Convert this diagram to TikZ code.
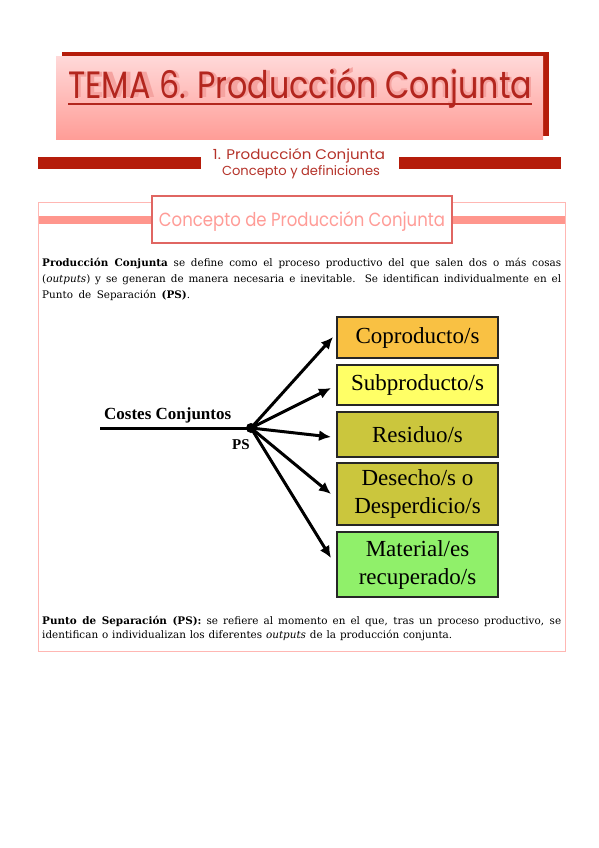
\documentclass[tikz,border=0pt]{standalone}
\usepackage{fontspec}
\setmainfont{DejaVu Serif}
\newfontfamily\timesf{Liberation Serif}
\newfontfamily\scriptf{Poppins}
\usetikzlibrary{arrows.meta}
\definecolor{darkred}{HTML}{B51C0A}
\definecolor{titletxt}{HTML}{B3261E}
\definecolor{titleshadow}{HTML}{F5A3A0}
\definecolor{pinktop}{HTML}{FFD8D8}
\definecolor{pinkbot}{HTML}{FF9D97}
\definecolor{subtxt}{HTML}{B5332A}
\definecolor{secborder}{HTML}{FFB7B3}
\definecolor{secband}{HTML}{FF968D}
\definecolor{boxborder}{HTML}{E06662}
\definecolor{boxtxt}{HTML}{FF9C97}
\definecolor{cCop}{HTML}{F9C143}
\definecolor{cSub}{HTML}{FFFF66}
\definecolor{cRes}{HTML}{CBC63D}
\definecolor{cMat}{HTML}{90F06A}
\newcommand{\titletext}{TEMA 6. Producción Conjunta}
\tikzset{
  obox/.style={draw=black!85, line width=1.6pt, minimum width=161pt, inner sep=0pt,
    align=center, font=\timesf\fontsize{23}{28}\selectfont},
  arr/.style={line width=3pt, -{Latex[length=12pt,width=11pt]}},
  para/.style={anchor=base west, inner sep=0pt, font=\fontsize{10.4}{12}\selectfont},
}
\begin{document}
\begin{tikzpicture}[x=1pt,y=-1pt]
\useasboundingbox (0,0) rectangle (599,848);
\fill[white] (0,0) rectangle (599,848);
% ---- title banner
\fill[darkred] (62,52) rectangle (549,136);
\shade[top color=pinktop, bottom color=pinkbot] (56,57) rectangle (543,139);
\node[anchor=base west, inner sep=0pt, text=titletxt] (title) at (68,99)
  {\rlap{\hspace{1.5pt}\raisebox{1.5pt}{\textcolor{titleshadow}{\resizebox{464pt}{30pt}{\scriptf\bfseries \titletext}}}}%
   \resizebox{464pt}{30pt}{\scriptf \titletext}};
\draw[titletxt, line width=1.6pt] (title.base west) ++(0,5) coordinate (ul1) -- ++(464,0) coordinate (ul2);
% ---- subtitle
\fill[darkred] (38,157) rectangle (200.5,169);
\fill[darkred] (399,157) rectangle (561,169);
\node[anchor=base, inner sep=0pt, text=subtxt] (sub1) at (299,159)
  {\resizebox{172pt}{11pt}{\scriptf 1. Producción Conjunta}};
\node[anchor=base, inner sep=0pt, text=subtxt] (sub2) at (301,175)
  {\resizebox{158pt}{10pt}{\scriptf Concepto y definiciones}};
% ---- section frame
\fill[secband] (38,215.5) rectangle (565,224);
\draw[secborder, line width=1pt] (38,202) rectangle (565,651);
\node[draw=boxborder, line width=1.3pt, fill=white, minimum width=300pt, minimum height=47pt,
  inner sep=0pt] (sbox) at (302,219.5) {};
\node[anchor=base, inner sep=0pt, text=boxtxt] (stitle) at (sbox.center) [yshift=-7pt]
  {\resizebox{286pt}{15pt}{\scriptf Concepto de Producción Conjunta}};
% ---- paragraph 1
\node[para] (p1) at (42,266) {\makebox[519pt][s]{\textbf{Producción Conjunta} se define como el proceso productivo del que salen dos o más cosas}};
\node[para] (p2) at (42,282) {\makebox[519pt][s]{(\textit{outputs}) y se generan de manera necesaria e inevitable. Se identifican individualmente en el}};
\node[para] (p3) at (42,298) {\makebox[148pt][s]{Punto de Separación \textbf{(PS)}.}};
% ---- diagram
\node[obox, fill=cCop, minimum height=41pt] (cop) at (417.5,337.5) {Coproducto/s};
\node[obox, fill=cSub, minimum height=40pt] (sub) at (417.5,385) {Subproducto/s};
\node[obox, fill=cRes, minimum height=45pt] (res) at (417.5,434.5) {Residuo/s};
\node[obox, fill=cRes, minimum height=62pt] (des) at (417.5,494) {Desecho/s o\\Desperdicio/s};
\node[obox, fill=cMat, minimum height=65pt] (mat) at (417.5,564.5) {Material/es\\recuperado/s};
\node[circle, fill=black, inner sep=0pt, minimum size=10pt] (ps) at (251,428) {};
\coordinate (start) at (100,428);
\draw[line width=3pt] (start) -- (ps.center);
\node[anchor=base west, inner sep=0pt, font=\timesf\bfseries\fontsize{17}{17}\selectfont] (cc) at (104,419) {Costes Conjuntos};
\node[anchor=base west, inner sep=0pt, font=\timesf\bfseries\fontsize{15}{15}\selectfont] (pslab) at (232,449) {PS};
\coordinate (t1) at (333,337);
\coordinate (t2) at (331,388);
\coordinate (t3) at (331,437);
\coordinate (t4) at (331,494);
\coordinate (t5) at (331,558);
\draw[arr] (ps.center) -- (t1);
\draw[arr] (ps.center) -- (t2);
\draw[arr] (ps.center) -- (t3);
\draw[arr] (ps.center) -- (t4);
\draw[arr] (ps.center) -- (t5);
% ---- paragraph 2
\node[para] (q1) at (42,624) {\makebox[519pt][s]{\textbf{Punto de Separación (PS):} se refiere al momento en el que, tras un proceso productivo, se}};
\node[para] (q2) at (42,638) {\makebox[410pt][s]{identifican o individualizan los diferentes \textit{outputs} de la producción conjunta.}};
\end{tikzpicture}
\end{document}
